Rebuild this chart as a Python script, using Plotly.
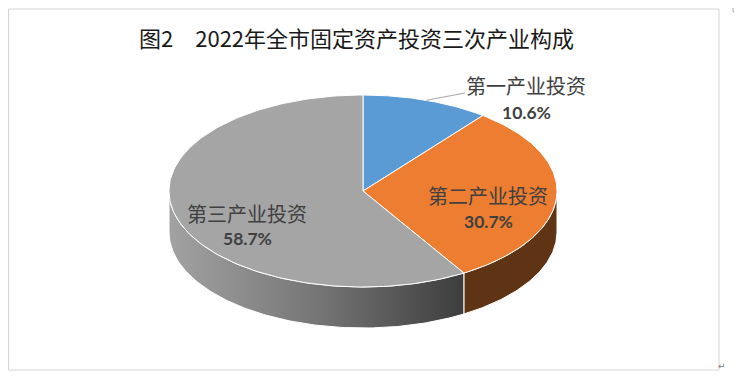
import numpy as np
import plotly.graph_objects as go

# ---- data ----
categories = ["第一产业投资", "第二产业投资", "第三产业投资"]
shares = [10.6, 30.7, 58.7]
title_text = "图2　2022年全市固定资产投资三次产业构成"

# ---- style ----
top_colors = ["#5B9BD5", "#ED7D31", "#A5A5A5"]
side_colors = ["#2E5C87", "#5F3414", "#7a7a7a"]
gray_side_scale = [[0, "#a2a2a2"], [0.5, "#767676"], [1, "#3d3d3d"]]
label_color = "#404040"
CJK = "Noto Sans CJK SC"

# the page body has an 8px margin; map data coords to page pixels
OFF = 8
W, H = 742 - OFF, 372 - OFF
CX, CY, RX, RY, DEPTH = 363, 191, 194, 96, 41


def ell(t_deg, dy=0.0):
    t = np.radians(t_deg)
    return CX + RX * np.sin(t), CY - RY * np.cos(t) + dy


total = float(sum(shares))
bounds = np.concatenate([[0.0], np.cumsum(shares) / total * 360.0])

fig = go.Figure()

# side walls (only front half, 90..270 deg clockwise from top, is visible)
for i in range(len(shares)):
    a0, a1 = max(bounds[i], 90.0), min(bounds[i + 1], 270.0)
    if a1 <= a0:
        continue
    t = np.linspace(a0, a1, 120)
    xt, yt = ell(t)
    xb, yb = ell(t[::-1], DEPTH)
    xs = np.concatenate([xt, xb, xt[:1]])
    ys = np.concatenate([yt, yb, yt[:1]])
    kw = dict(fillcolor=side_colors[i])
    if i == 2:
        kw = dict(fillgradient=dict(type="horizontal", colorscale=gray_side_scale))
    fig.add_trace(go.Scatter(x=xs, y=ys, mode="lines", fill="toself",
                             line=dict(color="white", width=1),
                             hoverinfo="skip", showlegend=False, **kw))

# top faces
for i in range(len(shares)):
    t = np.linspace(bounds[i], bounds[i + 1], 160)
    xa, ya = ell(t)
    xs = np.concatenate([[CX], xa, [CX]])
    ys = np.concatenate([[CY], ya, [CY]])
    fig.add_trace(go.Scatter(x=xs, y=ys, mode="lines", fill="toself",
                             fillcolor=top_colors[i],
                             line=dict(color="white", width=1),
                             hoverinfo="skip", showlegend=False,
                             name=categories[i]))

# labels
label_pos = [(526, 85, 112), (488, 195, 221), (247, 213, 238)]
annotations = []
for i, (lx, ly1, ly2) in enumerate(label_pos):
    annotations.append(dict(x=lx, y=ly1, xref="x", yref="y", text=categories[i],
                            showarrow=False, font=dict(family=CJK, size=20, color=label_color)))
    annotations.append(dict(x=lx, y=ly2, xref="x", yref="y", text=f"{shares[i]:.1f}%",
                            showarrow=False,
                            font=dict(family="Lato, Liberation Sans", size=17.5,
                                      color=label_color, weight="bold")))

# leader line for the first slice
mid0 = (bounds[0] + bounds[1]) / 2
sx, sy = ell(mid0)
fig.add_trace(go.Scatter(x=[sx, 465], y=[sy, 93], mode="lines",
                         line=dict(color="#a6a6a6", width=1),
                         hoverinfo="skip", showlegend=False))

# title
annotations.append(dict(x=356, y=37, xref="x", yref="y", text=title_text, showarrow=False,
                        font=dict(family=CJK, size=22, color="#1a1a1a")))
annotations.append(dict(x=722, y=366, xref="x", yref="y", text="↵", showarrow=False,
                        font=dict(family="DejaVu Sans", size=9, color="#808080")))

shapes = [
    dict(type="rect", xref="x", yref="y", x0=8.5, y0=9, x1=719, y1=370,
         line=dict(color="#d4d4d4", width=1), layer="below"),
    dict(type="path", xref="x", yref="y", path="M 733 8 L 733 12 L 742 12",
         line=dict(color="#a8a8a8", width=1)),
]

fig.update_layout(
    width=W, height=H,
    margin=dict(l=0, r=0, t=0, b=0),
    paper_bgcolor="white", plot_bgcolor="white",
    xaxis=dict(range=[OFF, OFF + W], visible=False, fixedrange=True),
    yaxis=dict(range=[OFF + H, OFF], visible=False, fixedrange=True),
    annotations=annotations,
    shapes=shapes,
    showlegend=False,
)

fig.write_html("out.html")
